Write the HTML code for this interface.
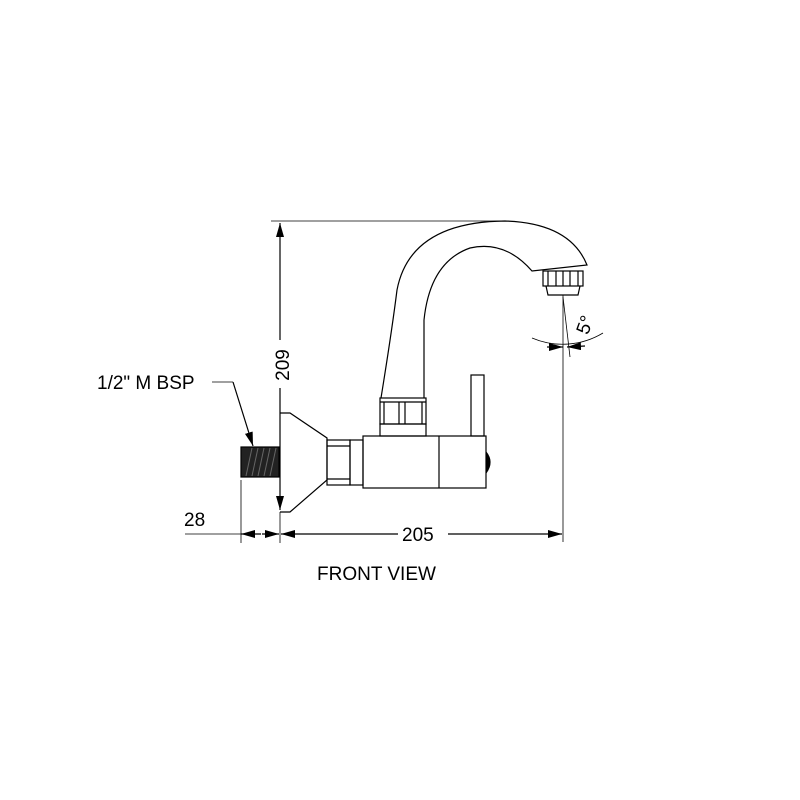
<!DOCTYPE html>
<html><head><style>body{margin:0;background:#fff}svg{display:block}</style></head><body>
<svg width="800" height="800" viewBox="0 0 800 800" xmlns="http://www.w3.org/2000/svg" font-family="Liberation Sans, sans-serif">
<defs>
<marker id="b" viewBox="0 0 14 8" refX="14" refY="4" markerWidth="14" markerHeight="8" markerUnits="userSpaceOnUse" orient="auto"><path d="M0,0L14,4L0,8z" fill="#000"/></marker>
</defs>
<g fill="none" stroke="#000" stroke-width="1.2">
<line x1="271" y1="221" x2="505" y2="221" stroke-width="0.8"/>
<line x1="280" y1="340" x2="280" y2="223" marker-end="url(#b)"/>
<line x1="280" y1="388" x2="280" y2="510" marker-end="url(#b)"/>
<path d="M280,413 L290,413 L327,438 L327,480 L290,512 L280,512"/>
<rect x="241" y="447" width="38" height="30" fill="#222"/>
<g stroke="#666" stroke-width="1"><line x1="246" y1="476" x2="252" y2="448"/><line x1="252" y1="476" x2="258" y2="448"/><line x1="258" y1="476" x2="264" y2="448"/><line x1="264" y1="476" x2="270" y2="448"/><line x1="270" y1="476" x2="276" y2="448"/></g>
<rect x="327" y="440" width="23" height="45"/>
<line x1="327" y1="446" x2="350" y2="446"/><line x1="327" y1="479" x2="350" y2="479"/>
<rect x="350" y="440" width="13" height="45"/>
<rect x="363" y="436" width="123" height="52"/>
<line x1="439" y1="436" x2="439" y2="488"/>
<path d="M486,452 Q494,462 486,473" fill="#000"/>
<rect x="471" y="375" width="13" height="61"/>
<rect x="380" y="398" width="46" height="26"/>
<line x1="380" y1="402" x2="426" y2="402"/>
<line x1="384" y1="402" x2="384" y2="424"/><line x1="422" y1="402" x2="422" y2="424"/>
<line x1="399" y1="402" x2="399" y2="424"/><line x1="405" y1="402" x2="405" y2="424"/>
<rect x="380" y="424" width="46" height="12"/>
<path d="M381,398 Q392,330 397,290 Q410,222 505,221 Q570,223 587,265 L532,271 Q505,240 470,248 Q430,262 424,320 L424,398"/>
<rect x="543" y="271" width="40" height="15"/>
<line x1="548" y1="271" x2="548" y2="286"/><line x1="556" y1="271" x2="556" y2="286"/><line x1="563" y1="271" x2="563" y2="286"/><line x1="570" y1="271" x2="570" y2="286"/><line x1="578" y1="271" x2="578" y2="286"/>
<path d="M546,286 L548,295 L578,295 L580,286"/>
<line x1="563" y1="295" x2="563" y2="542" stroke-width="0.8"/>
<line x1="563" y1="297" x2="570" y2="357" stroke-width="0.8"/>
<path d="M532,338 A78,78 0 0 0 603,333" stroke-width="0.8"/>
<line x1="547" y1="347" x2="563" y2="347" marker-end="url(#b)"/>
<line x1="585" y1="346" x2="567" y2="347" marker-end="url(#b)"/>
<line x1="241" y1="480" x2="241" y2="543" stroke-width="0.8"/>
<line x1="280" y1="512" x2="280" y2="543" stroke-width="0.8"/>
<line x1="185" y1="534" x2="241" y2="534" stroke-width="0.8"/>
<line x1="261" y1="534" x2="241" y2="534" marker-end="url(#b)"/>
<line x1="262" y1="534" x2="279" y2="534" marker-end="url(#b)"/>
<line x1="398" y1="534" x2="281" y2="534" marker-end="url(#b)"/>
<line x1="448" y1="534" x2="562" y2="534" marker-end="url(#b)"/>
<line x1="212" y1="382" x2="233" y2="382" stroke-width="0.8"/>
<line x1="233" y1="382" x2="253" y2="446" marker-end="url(#b)"/>
</g>
<g font-size="19" fill="#000">
<text x="97" y="389">1/2" M BSP</text>
<text x="184" y="526">28</text>
<text x="402" y="541">205</text>
<text transform="translate(289,365) rotate(-90)" text-anchor="middle">209</text>
<text transform="translate(591,327) rotate(-70)" text-anchor="middle">5°</text>
<text x="317" y="580">FRONT VIEW</text>
</g>
</svg>
</body></html>
